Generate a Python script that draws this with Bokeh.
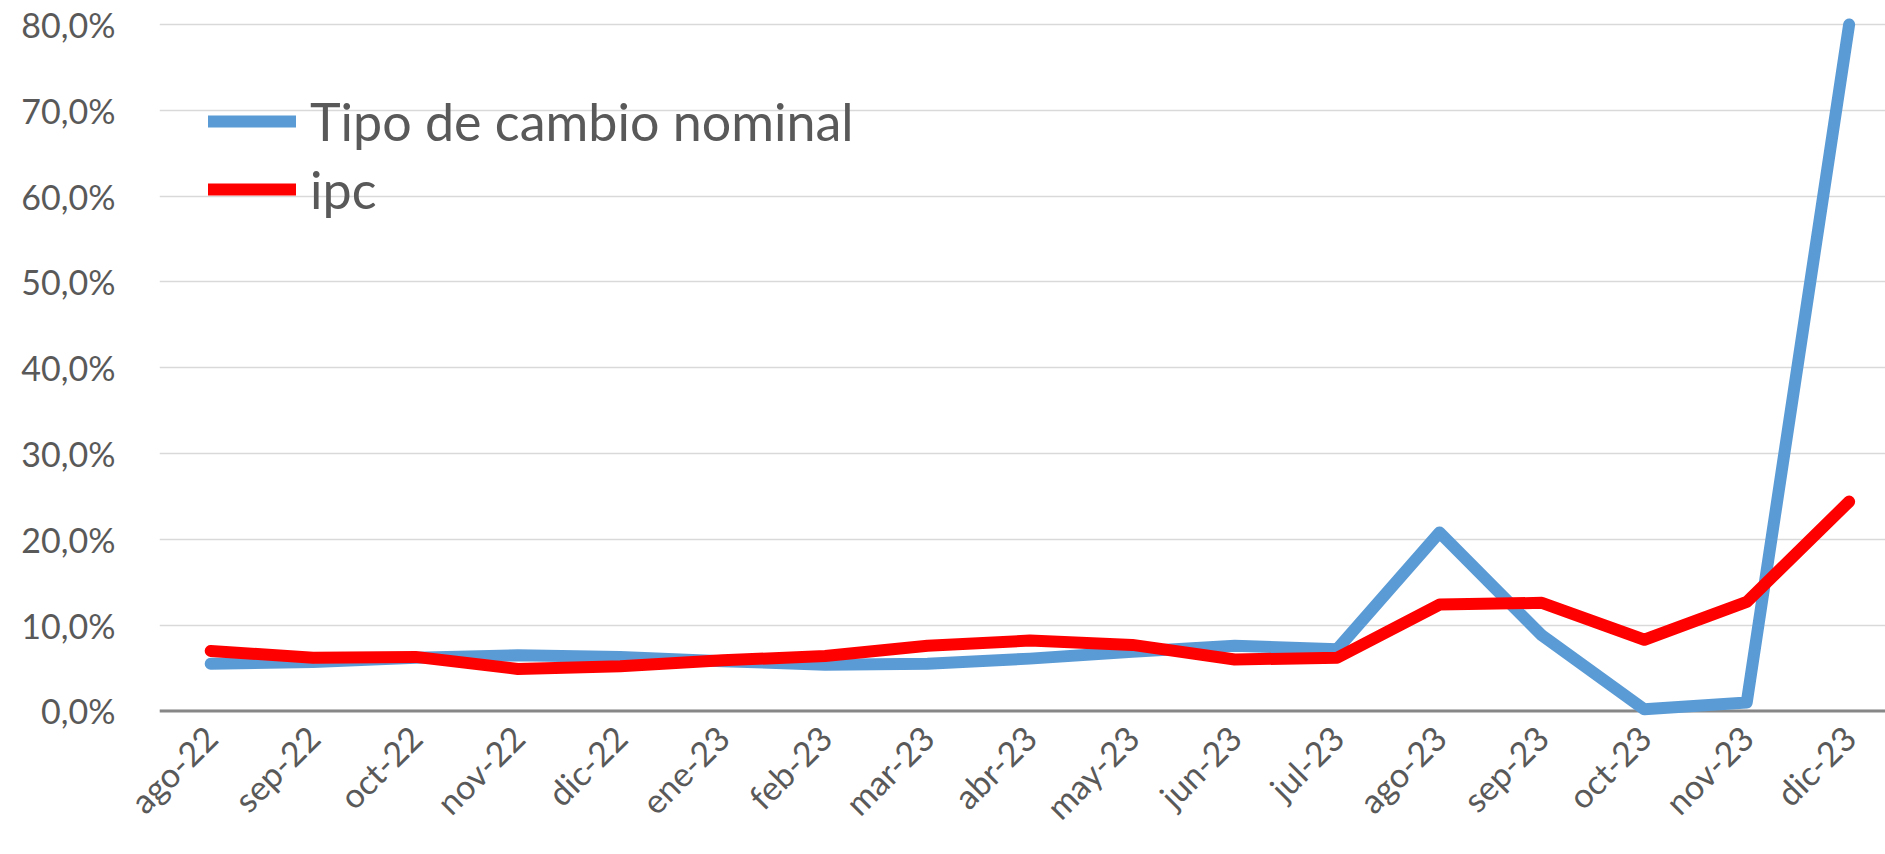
import numpy as np
from bokeh.plotting import figure
from bokeh.models import Range1d, FixedTicker, Span, Legend, LegendItem, ColumnDataSource
from bokeh.embed import file_html
from bokeh.resources import INLINE

categories = ["ago-22", "sep-22", "oct-22", "nov-22", "dic-22", "ene-23", "feb-23", "mar-23",
              "abr-23", "may-23", "jun-23", "jul-23", "ago-23", "sep-23", "oct-23", "nov-23", "dic-23"]
tipo_cambio = [5.5, 5.7, 6.2, 6.5, 6.3, 5.8, 5.4, 5.5, 6.1, 6.9, 7.6, 7.2, 20.8, 8.8, 0.2, 1.0, 80.0]
ipc = [7.0, 6.2, 6.3, 4.9, 5.2, 5.9, 6.4, 7.6, 8.2, 7.7, 6.0, 6.2, 12.4, 12.6, 8.3, 12.7, 24.4]
y_ticks = [0, 10, 20, 30, 40, 50, 60, 70, 80]

FONT = "Lato"
GRAY = "#595959"

x = list(range(len(categories)))
src = ColumnDataSource(dict(x=x, tcn=tipo_cambio, ipc=ipc))

p = figure(width=1885, height=854, output_backend="svg", toolbar_location=None,
           x_range=Range1d(-0.5, 16.355), y_range=Range1d(-0.76, 82.56),
           min_border_left=159, min_border_right=0, min_border_top=2, min_border_bottom=137)
p.outline_line_color = None
p.background_fill_color = "white"
p.border_fill_color = "white"

# grid
p.xgrid.grid_line_color = None
p.ygrid.grid_line_color = "#d9d9d9"
p.ygrid.grid_line_width = 1.5
p.yaxis.ticker = FixedTicker(ticks=y_ticks)
p.yaxis.major_label_overrides = {v: (f"{v:.1f}%").replace(".", ",") for v in y_ticks}
p.xaxis.ticker = FixedTicker(ticks=x)
p.xaxis.major_label_overrides = {i: c for i, c in enumerate(categories)}
p.xaxis.major_label_orientation = np.pi / 4

for ax in (p.xaxis, p.yaxis):
    ax.axis_line_color = None
    ax.major_tick_line_color = None
    ax.minor_tick_line_color = None
    ax.major_label_text_font = FONT
    ax.major_label_text_font_size = "34px"
    ax.major_label_text_color = GRAY
p.yaxis.major_label_standoff = 38
p.xaxis.major_label_standoff = 8

zero = Span(location=0, dimension="width", line_color="#878787", line_width=3, level="underlay")
p.add_layout(zero)

r1 = p.line("x", "tcn", source=src, line_color="#5b9bd5", line_width=12,
            line_join="round", line_cap="round")
r2 = p.line("x", "ipc", source=src, line_color="#ff0000", line_width=12,
            line_join="round", line_cap="round")

legend = Legend(items=[LegendItem(label="Tipo de cambio nominal", renderers=[r1]),
                       LegendItem(label="ipc", renderers=[r2])],
                location=(49, 494), orientation="vertical")
legend.background_fill_alpha = 0
legend.border_line_color = None
legend.padding = 0
legend.margin = 0
legend.spacing = 0
legend.glyph_width = 88
legend.glyph_height = 68
legend.label_height = 68
legend.label_standoff = 14
legend.label_text_font = FONT
legend.label_text_font_size = "52px"
legend.label_text_color = GRAY
p.add_layout(legend)

open("out.html", "w").write(file_html(p, INLINE))
